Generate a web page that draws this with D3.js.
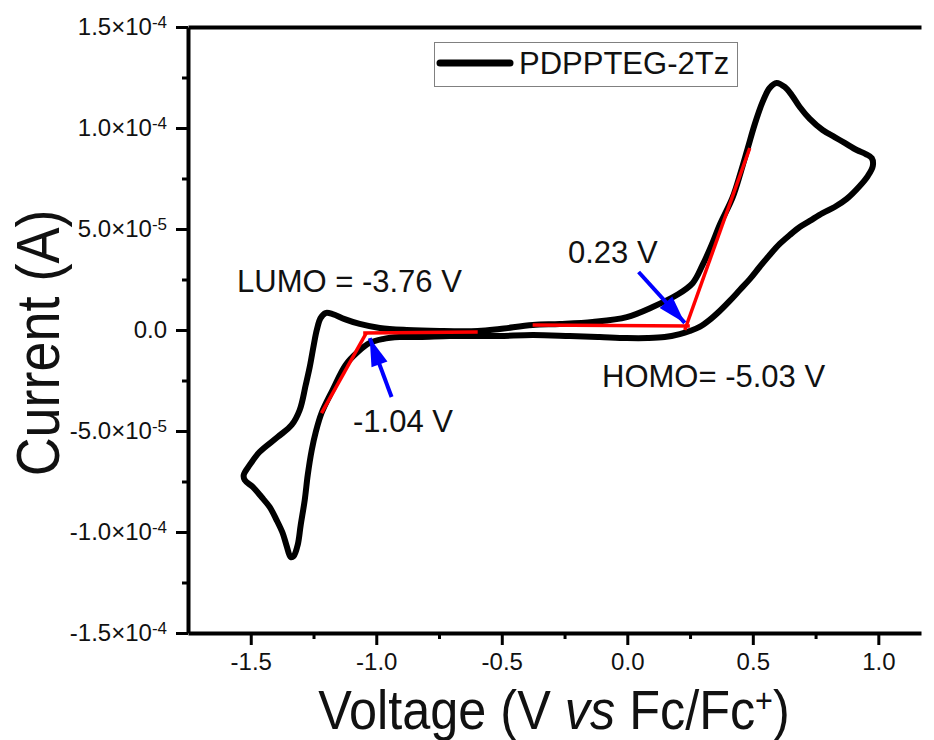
<!DOCTYPE html>
<html>
<head>
<meta charset="utf-8">
<script src="https://cdn.jsdelivr.net/npm/d3@7"></script>
<style>
  body { margin: 0; background: #fff; }
  svg { font-family: "Liberation Sans", Arial, sans-serif; }
</style>
</head>
<body>
<svg id="drawing_region"></svg>
<script>
// CV loop of PDPPTEG-2Tz, current in units of 1e-5 A
const voltage = [-0.879,-0.747,-0.596,-0.508,-0.377,-0.269,-0.138,-0.002,0.101,0.197,
    0.261,0.300,0.336,0.368,0.420,0.452,0.480,0.508,0.539,0.567,
    0.595,0.627,0.655,0.687,0.727,0.778,0.826,0.866,0.914,0.950,
    0.974,0.978,0.958,0.926,0.874,0.826,0.778,0.727,0.687,0.647,
    0.607,0.567,0.527,0.488,0.448,0.408,0.368,0.328,0.288,0.249,
    0.209,0.149,0.081,-0.002,-0.110,-0.229,-0.377,-0.508,-0.596,-0.708,
    -0.827,-0.907,-0.975,-1.026,-1.074,-1.122,-1.174,-1.218,-1.241,-1.257,
    -1.273,-1.285,-1.301,-1.313,-1.329,-1.341,-1.357,-1.373,-1.397,-1.425,
    -1.457,-1.492,-1.524,-1.528,-1.504,-1.465,-1.393,-1.337,-1.305,-1.281,
    -1.265,-1.249,-1.237,-1.222,-1.202,-1.174,-1.126,-1.066,-0.986];
const current = [0,-0.05,-0.05,0.05,0.25,0.30,0.40,0.64,1.14,1.73,
    2.33,3.22,4.21,5.20,6.58,7.82,9.01,10.20,11.29,11.98,
    12.23,12.03,11.63,11.04,10.45,9.90,9.55,9.26,8.91,8.71,
    8.51,8.12,7.62,7.13,6.49,6.09,5.79,5.40,5.10,4.70,
    4.26,3.71,3.12,2.52,1.98,1.44,0.94,0.50,0.15,-0.05,
    -0.20,-0.35,-0.40,-0.40,-0.35,-0.30,-0.25,-0.30,-0.30,-0.30,
    -0.35,-0.35,-0.45,-0.64,-1.09,-1.73,-2.97,-4.11,-5.05,-5.94,
    -7.18,-8.42,-9.65,-10.64,-11.19,-11.24,-10.69,-10.05,-9.41,-8.76,
    -8.27,-7.77,-7.43,-7.18,-6.68,-6.04,-5.30,-4.70,-3.96,-2.72,
    -1.83,-0.74,0,0.59,0.84,0.79,0.54,0.30,0.10];

const xTicks = [-1.5, -1.0, -0.5, 0.0, 0.5, 1.0];
const xTickLabels = ["-1.5", "-1.0", "-0.5", "0.0", "0.5", "1.0"];
const xMinorTicks = [-1.25, -0.75, -0.25, 0.25, 0.75];
const yTicks = [-15, -10, -5, 0, 5, 10, 15];
const yTickMantissa = ["-1.5", "-1.0", "-5.0", "0.0", "5.0", "1.0", "1.5"];
const yTickExponent = ["-4", "-4", "-5", "", "-5", "-4", "-4"];
const yMinorTicks = [-12.5, -7.5, -2.5, 2.5, 7.5, 12.5];

// onset tangent lines [V, I]
const tangentLines = [
    [[-1.218, -4.11], [-1.040, -0.15]],
    [[-1.052, -0.15], [-0.596, -0.10]],
    [[-0.377, 0.25], [0.249, 0.20]],
    [[0.229, 0.0], [0.488, 9.01]]
];
// arrows pointing at the onsets [from, to]
const arrowLines = [
    [[-0.939, -3.32], [-1.026, -0.40]],
    [[0.045, 2.87], [0.229, 0.35]]
];

const seriesName = "PDPPTEG-2Tz";

const config = {
    width: 934,
    height: 740,
    margin: {top: 27, right: 13, bottom: 107, left: 188}
};

const svg = d3.select('#drawing_region')
    .attr('width', config.width)
    .attr('height', config.height);

const inner_width = config.width - config.margin.left - config.margin.right;
const inner_height = config.height - config.margin.top - config.margin.bottom;

const chart = svg.append('g')
    .attr('transform', `translate(${config.margin.left}, ${config.margin.top})`);

const xscale = d3.scaleLinear()
    .domain([-1.75, 1.17])
    .range([0, inner_width]);

const yscale = d3.scaleLinear()
    .domain([-15, 15])
    .range([inner_height, 0]);

// axes
const xaxis = d3.axisBottom(xscale)
    .tickValues(xTicks)
    .tickFormat((d, i) => xTickLabels[i])
    .tickSize(12)
    .tickPadding(8)
    .tickSizeOuter(0);

const xaxis_minor = d3.axisBottom(xscale)
    .tickValues(xMinorTicks)
    .tickFormat('')
    .tickSize(6)
    .tickSizeOuter(0);

const yaxis = d3.axisLeft(yscale)
    .tickValues(yTicks)
    .tickFormat('')
    .tickSize(12)
    .tickPadding(9)
    .tickSizeOuter(0);

const yaxis_minor = d3.axisLeft(yscale)
    .tickValues(yMinorTicks)
    .tickFormat('')
    .tickSize(6)
    .tickSizeOuter(0);

const topaxis = d3.axisTop(xscale)
    .tickValues([])
    .tickSizeOuter(0);

chart.append('g').call(topaxis);

const xaxis_group = chart.append('g')
    .attr('transform', `translate(0, ${inner_height})`)
    .call(xaxis);
const xminor_group = chart.append('g')
    .attr('transform', `translate(0, ${inner_height})`)
    .call(xaxis_minor);
xminor_group.select('.domain').remove();
xminor_group.selectAll('.tick text').remove();

const yaxis_group = chart.append('g').call(yaxis);
const yminor_group = chart.append('g').call(yaxis_minor);
yminor_group.select('.domain').remove();
yminor_group.selectAll('.tick text').remove();

chart.selectAll('.domain')
    .attr('stroke', '#000')
    .attr('stroke-width', 4);
chart.selectAll('.tick line')
    .attr('stroke', '#000')
    .attr('stroke-width', 3);

xaxis_group.selectAll('.tick text')
    .attr('font-size', '24px')
    .attr('font-family', '"Liberation Sans", Arial, sans-serif')
    .attr('fill', '#111');

yaxis_group.selectAll('.tick text')
    .attr('font-size', '24px')
    .attr('font-family', '"Liberation Sans", Arial, sans-serif')
    .attr('fill', '#111')
    .each(function(d, i) {
        const t = d3.select(this);
        t.text(null);
        if (yTickExponent[i] === '') {
            t.append('tspan').text(yTickMantissa[i]);
        } else {
            t.append('tspan').text(yTickMantissa[i] + '\u00d710');
            t.append('tspan')
                .attr('dy', '-0.45em')
                .attr('font-size', '17px')
                .text(yTickExponent[i]);
        }
    });

// curve
const data = voltage.map((v, i) => ({v: v, c: current[i]}));
const line = d3.line()
    .x(d => xscale(d.v))
    .y(d => yscale(d.c))
    .curve(d3.curveCatmullRomClosed.alpha(0.5));

chart.append('path')
    .datum(data)
    .attr('d', line)
    .attr('fill', 'none')
    .attr('stroke', '#000')
    .attr('stroke-width', 6)
    .attr('stroke-linejoin', 'round');

// tangents
chart.selectAll('.tangent').data(tangentLines).enter()
    .append('line')
    .attr('class', 'tangent')
    .attr('x1', d => xscale(d[0][0]))
    .attr('y1', d => yscale(d[0][1]))
    .attr('x2', d => xscale(d[1][0]))
    .attr('y2', d => yscale(d[1][1]))
    .attr('stroke', '#ff0000')
    .attr('stroke-width', 3.5);

// arrows
svg.append('defs').append('marker')
    .attr('id', 'head')
    .attr('markerUnits', 'userSpaceOnUse')
    .attr('viewBox', '-30 -10 32 20')
    .attr('refX', 0)
    .attr('refY', 0)
    .attr('markerWidth', 32)
    .attr('markerHeight', 20)
    .attr('orient', 'auto')
    .append('path')
    .attr('d', 'M0,0 L-28,-8.5 L-28,8.5 Z')
    .attr('fill', '#0000ff');

chart.selectAll('.arrow').data(arrowLines).enter()
    .append('line')
    .attr('class', 'arrow')
    .attr('x1', d => xscale(d[0][0]))
    .attr('y1', d => yscale(d[0][1]))
    .attr('x2', d => xscale(d[1][0]))
    .attr('y2', d => yscale(d[1][1]))
    .attr('stroke', '#0000ff')
    .attr('stroke-width', 4)
    .attr('marker-end', 'url(#head)');

// annotations
const notes = [
    {x: 237, y: 292, t: 'LUMO = -3.76 V'},
    {x: 353, y: 432, t: '-1.04 V'},
    {x: 568, y: 263, t: '0.23 V'},
    {x: 602, y: 387, t: 'HOMO= -5.03 V'}
];
svg.selectAll('.note').data(notes).enter()
    .append('text')
    .attr('class', 'note')
    .attr('x', d => d.x)
    .attr('y', d => d.y)
    .attr('font-size', '31px')
    .attr('fill', '#111')
    .text(d => d.t);

// legend
const legend = svg.append('g');
legend.append('rect')
    .attr('x', 434.5).attr('y', 42.5)
    .attr('width', 303).attr('height', 44)
    .attr('fill', '#fff')
    .attr('stroke', '#808080')
    .attr('stroke-width', 1);
legend.append('line')
    .attr('x1', 440).attr('y1', 63)
    .attr('x2', 510).attr('y2', 63)
    .attr('stroke', '#000')
    .attr('stroke-width', 7)
    .attr('stroke-linecap', 'round');
legend.append('text')
    .attr('x', 519).attr('y', 74)
    .attr('font-size', '31px')
    .attr('fill', '#111')
    .text(seriesName);

// axis titles
const xtitle = svg.append('text')
    .attr('transform', 'translate(554, 729) scale(0.9, 1)')
    .attr('text-anchor', 'middle')
    .attr('font-size', '56px')
    .attr('fill', '#111');
xtitle.append('tspan').text('Voltage (V ');
xtitle.append('tspan').attr('font-style', 'italic').text('vs');
xtitle.append('tspan').text(' Fc/Fc');
xtitle.append('tspan').attr('dy', '-0.5em').attr('font-size', '34px').text('+');
xtitle.append('tspan').attr('dy', '0.3em').text(')');

svg.append('text')
    .attr('transform', 'translate(59, 343) rotate(-90) scale(0.87, 1)')
    .attr('text-anchor', 'middle')
    .attr('font-size', '62px')
    .attr('fill', '#111')
    .text('Current (A)');
</script>
</body>
</html>
